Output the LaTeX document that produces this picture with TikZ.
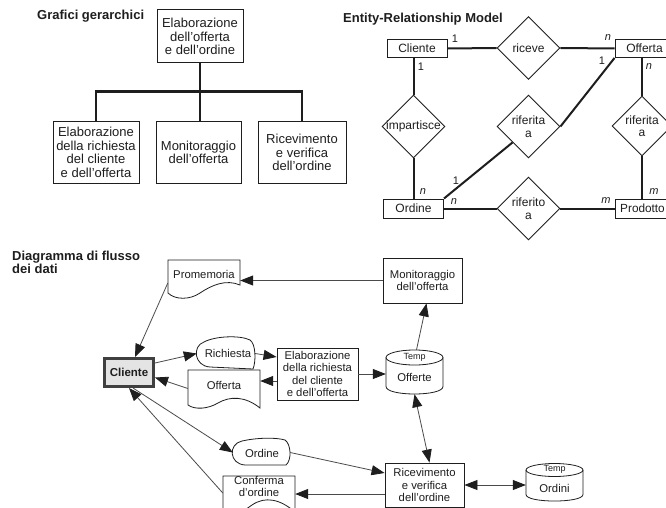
\documentclass[tikz,border=0pt]{standalone}
\usepackage{fontspec}
\setmainfont{Liberation Sans}
\usetikzlibrary{arrows.meta,shapes.geometric,calc}

\definecolor{ink}{HTML}{1E1E1E}
\definecolor{flowgray}{HTML}{4A4A4A}
\definecolor{clientfill}{HTML}{E4E4E4}
\newcommand{\myfs}[2]{\fontsize{#1}{#2}\selectfont}

\begin{document}
\begin{tikzpicture}[x=1pt,y=-1pt,
  every node/.style={text=ink, inner sep=0pt},
  heading/.style={font=\bfseries\myfs{13}{13}, anchor=base west, align=left},
  hbox/.style={draw=ink, line width=1pt, align=center, font=\myfs{13}{13.5}},
  tree/.style={draw=ink, line width=2.2pt},
  ent/.style={draw=ink, line width=1pt, font=\myfs{12}{13}, minimum height=18, minimum width=60},
  rel/.style={diamond, draw=ink, line width=0.9pt, minimum width=63, minimum height=63},
  reltext/.style={font=\myfs{12}{12.5}, align=center},
  erline/.style={draw=ink, line width=2pt},
  card/.style={font=\myfs{11}{12}},
  pbox/.style={draw=ink, line width=0.9pt, align=center, font=\myfs{11.3}{12.2}},
  dftext/.style={font=\myfs{11.3}{12.5}, align=center},
  shapeline/.style={draw=ink, line width=0.8pt},
  anchorbox/.style={draw=none, rectangle},
  dfarrow/.style={draw=flowgray, line width=0.8pt, -{Triangle[length=13pt,width=10pt,color=ink]}},
  dfboth/.style={draw=flowgray, line width=0.8pt, {Triangle[length=13pt,width=10pt,color=ink]}-{Triangle[length=13pt,width=10pt,color=ink]}},
  tempt/.style={font=\myfs{9}{10}}
]
\useasboundingbox (0,0) rectangle (666,508);
\fill[white] (0,0) rectangle (666,508);

% ---------------- Grafici gerarchici ----------------
\node[heading] (h1) at (37,20) {Grafici gerarchici};
\node[hbox, minimum width=86, minimum height=53] (top) at (200,36.5) {Elaborazione\\dell'offerta\\e dell'ordine};
\node[hbox, minimum width=86, minimum height=61] (b1) at (96,152.5) {Elaborazione\\della richiesta\\del cliente\\e dell'offerta};
\node[hbox, minimum width=85, minimum height=61] (b2) at (198.5,152.5) {Monitoraggio\\dell'offerta};
\node[hbox, minimum width=88, minimum height=61] (b3) at (302,152.5) {Ricevimento\\e verifica\\dell'ordine};
\draw[tree] (top.south) -- ++(0,28) coordinate (hub);
\draw[tree] (b1.north) |- (hub) -| (b3.north);
\draw[tree] (hub) -- (hub |- b2.north);

% ---------------- Entity-Relationship Model ----------------
\node[heading] (h2) at (343,23) {Entity-Relationship Model};
\node[ent] (cli) at (417,48.5) {Cliente};
\node[ent, minimum width=59] (off) at (644.5,48.5) {Offerta};
\node[ent, minimum height=19] (ord) at (413.5,208.5) {Ordine};
\node[ent, minimum height=19] (prod) at (645,208.5) {};
\node[font=\myfs{11.8}{13}] (prod-t) at (642.5,208.5) {Prodotto};
\node[rel] (ric) at (528.5,48) {};
\node[reltext] (ric-t) at (ric) {riceve};
\node[rel] (imp) at (413.5,126.5) {};
\node[reltext] (imp-t) at (imp) {impartisce};
\node[rel] (rfm) at (528.5,126.5) {};
\node[reltext] (rfm-t) at (rfm) {riferita\\a};
\node[rel, minimum width=60, minimum height=60] (rfr) at (642,126) {};
\node[reltext] (rfr-t) at (rfr) {riferita\\a};
\node[rel] (rfo) at (528.5,208.5) {};
\node[reltext] (rfo-t) at (rfo) {riferito\\a};

\draw[erline] (cli.east) -- (ric.west);
\draw[erline] (ric.east) -- (off.west);
\draw[erline] (cli.south -| imp.north) -- (imp.north);
\draw[erline] (imp.south) -- (ord.north -| imp.south);
\draw[erline] (ord.east) -- (rfo.west);
\draw[erline] (rfo.east) -- (prod.west);
\draw[erline] (off.south -| rfr.north) -- (rfr.north);
\draw[erline] (rfr.south) -- (prod.north -| rfr.south);
\draw[erline] (off.south west) -- (rfm.east);
\draw[erline] ($(rfm.west)!0.5!(rfm.south)$) -- (ord.north east);

\node[card] (c1) at (455,39) {1};
\node[card] (c2) at (421,67) {1};
\node[card] (c3) at (608,38) {\itshape n};
\node[card] (c4) at (602,61) {1};
\node[card] (c5) at (649,67) {\itshape n};
\node[card] (c6) at (654,192) {\itshape m};
\node[card] (c7) at (606,201) {\itshape m};
\node[card] (c8) at (423,192) {\itshape n};
\node[card] (c9) at (454,202) {\itshape n};
\node[card] (c10) at (456,181) {1};

% ---------------- Diagramma di flusso dei dati ----------------
\node[heading] (h3) at (12,273) {Diagramma di flusso\\dei dati};

% Promemoria (document)
\node[anchorbox, minimum width=72, minimum height=38] (prom) at (204,279) {};
\draw[shapeline] (168,293) -- (168,260) -- (240,260) -- (240,285)
  .. controls (226,279) and (212,285) .. (200,293)
  .. controls (190,300) and (175,300) .. (168,293) -- cycle;
\node[dftext] (prom-t) at (204,274) {Promemoria};

% Monitoraggio
\node[pbox, minimum width=79, minimum height=45] (monit) at (422.5,280.5) {Monitoraggio\\dell'offerta};

% Cliente (external entity)
\node[draw=ink!85, line width=3pt, fill=clientfill, minimum width=49, minimum height=28,
      font=\bfseries\myfs{11.5}{12}] (cl) at (129,372.5) {Cliente};

% Richiesta (flow)
\node[anchorbox, minimum width=58, minimum height=31] (rich) at (226,353.5) {};
\draw[shapeline] (204,342) .. controls (215,336) and (240,335) .. (250,340)
  .. controls (256,344) and (256,362) .. (253,369) -- (210,367)
  .. controls (194,366) and (192,346) .. (204,342) -- cycle;
\node[dftext] (rich-t) at (228,353) {Richiesta};

% Elaborazione della richiesta
\node[pbox, minimum width=81, minimum height=52] (elab) at (317.5,374) {Elaborazione\\della richiesta\\del cliente\\e dell'offerta};

% Offerta (document)
\node[anchorbox, minimum width=72, minimum height=37] (offd) at (224,388.5) {};
\draw[shapeline] (188,405) -- (188,370) -- (260,370) -- (260,408)
  .. controls (245,396) and (230,396) .. (218,403)
  .. controls (208,409) and (195,410) .. (188,405) -- cycle;
\node[dftext] (offd-t) at (224,385) {Offerta};

% Offerte (store)
\node[anchorbox, minimum width=57, minimum height=44] (offs) at (414.5,372) {};
\draw[shapeline] (386,357.5) -- (386,386.5) .. controls (386,396.5) and (443,396.5) .. (443,386.5) -- (443,357.5);
\draw[shapeline] (414.5,357.5) ellipse [x radius=28.5pt, y radius=7.5pt];
\node[tempt] (offs-temp) at (414.5,357.5) {Temp};
\node[dftext] (offs-t) at (414.5,377.5) {Offerte};

% Ordine (flow)
\node[anchorbox, minimum width=57, minimum height=26] (ordd) at (261.5,452.5) {};
\draw[shapeline] (242,441) .. controls (255,438) and (275,437) .. (285,440)
  .. controls (291,444) and (292,460) .. (286,465) -- (245,465)
  .. controls (229,464) and (228,444) .. (242,441) -- cycle;
\node[dftext] (ordd-t) at (262,453) {Ordine};

% Ricevimento e verifica
\node[pbox, minimum width=79, minimum height=44] (ricev) at (424.5,485) {Ricevimento\\e verifica\\dell'ordine};

% Ordini (store)
\node[anchorbox, minimum width=57, minimum height=38] (ords) at (554.5,482) {};
\draw[shapeline] (526,470) -- (526,494.5) .. controls (526,503.2) and (583,503.2) .. (583,494.5) -- (583,470);
\draw[shapeline] (554.5,470) ellipse [x radius=28.5pt, y radius=6.5pt];
\node[tempt] (ords-temp) at (554.5,469.5) {Temp};
\node[dftext] (ords-t) at (554.5,488) {Ordini};

% Conferma d'ordine (document)
\node[anchorbox, minimum width=72, minimum height=44] (conf) at (259,498) {};
\draw[shapeline] (223,514) -- (223,476) -- (295,476) -- (295,512)
  .. controls (280,499) and (265,496) .. (252,505)
  .. controls (242,512) and (232,519) .. (223,514) -- cycle;
\node[dftext] (conf-t) at (259,486.5) {Conferma\\d'ordine};

% data flows
\draw[dfarrow] (monit.west) -- (monit.west -| prom.east);
\draw[dfarrow] ([yshift=-4]prom.west) -- ([xshift=6]cl.north);
\draw[dfarrow] ([yshift=9.5]cl.east) -- (rich.west);
\draw[dfarrow] (rich.east) -- ([yshift=17]elab.west);
\draw[dfarrow] ([yshift=-7]elab.west) -- ([yshift=-7]elab.west -| offd.east);
\draw[dfarrow] (offd.west) -- ([yshift=-5]cl.east);
\draw[dfarrow] ([xshift=4]cl.south) -- (ordd.west);
\draw[dfarrow] (ordd.east) -- ([yshift=12]ricev.west);
\draw[dfarrow] ([yshift=-9]ricev.west) -- ([yshift=-9]ricev.west -| conf.east);
\draw[dfarrow] ([yshift=5]conf.west) -- (cl.south);
\draw[dfarrow] (elab.east) -- (elab.east -| offs.west);
\draw[dfarrow] ([xshift=2]offs.north) -- ([xshift=4]monit.south);
\draw[dfboth] (offs.south) -- ([xshift=5]ricev.north);
\draw[dfboth] (ricev.east) -- (ricev.east -| ords.west);
\end{tikzpicture}
\end{document}
